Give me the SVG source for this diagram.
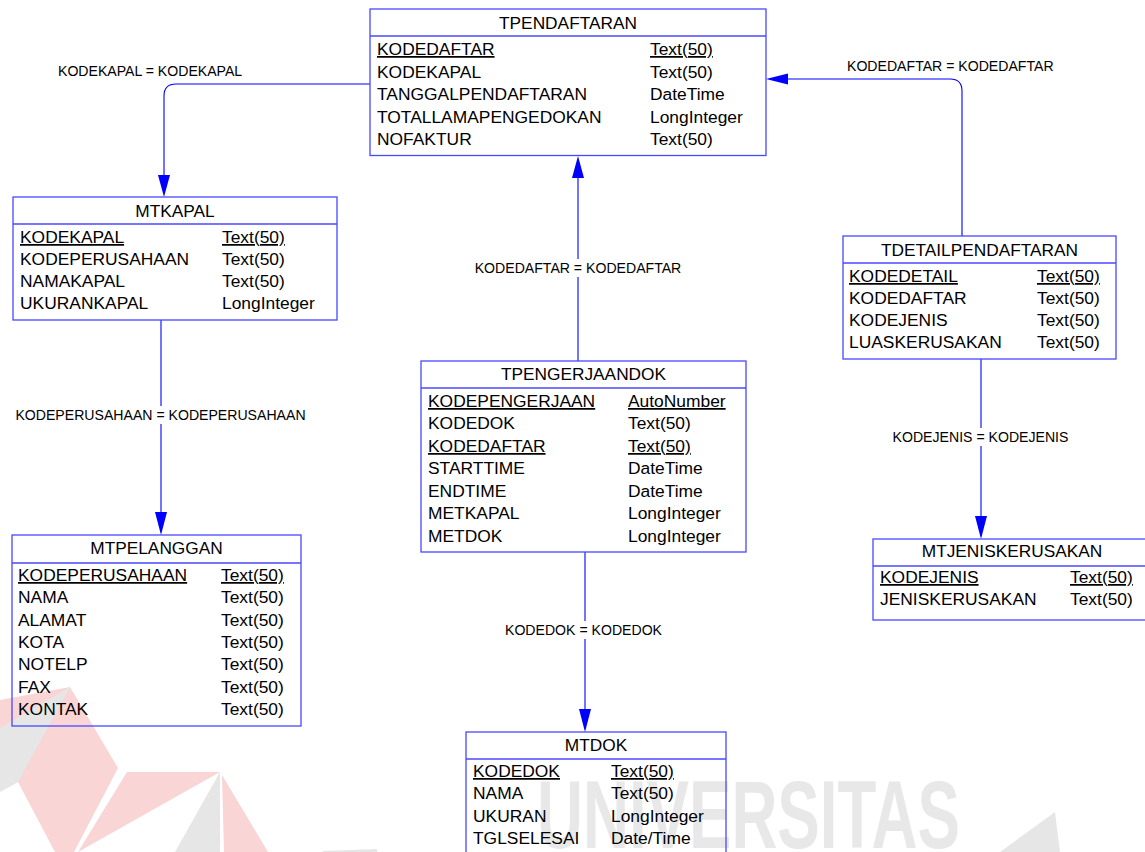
<svg xmlns="http://www.w3.org/2000/svg" width="1145" height="852" viewBox="0 0 1145 852">
<style>
text{font-family:"Liberation Sans",Arial,sans-serif;fill:#000}
.t{font-size:17.3px;text-anchor:middle}
.r{font-size:17.4px}
.u{text-decoration:underline}
.lbl{font-size:14.1px}
.lc{font-size:14.1px;text-anchor:middle}
.box{fill:none;stroke:#4848ff;stroke-width:1.3}
.ln{fill:none;stroke:#0000ff;stroke-width:1.1}
.ah{fill:#0000ff;stroke:none}
.bg{fill:#fff}
.wr{fill:#f9d5d5}
.wg{fill:#e6e6e6}
</style>
<rect width="1145" height="852" fill="#fff"/>
<g id="watermark">
<polygon class="wr" points="0,700 70,687 118,768 74,852 0,852"/>
<polygon class="wg" points="0,728 70,687 18,782 0,792"/>
<polygon class="bg" points="0,792 18,782 55,852 0,852"/>
<polygon class="wr" points="127,772 220,772 78,852"/>
<polygon class="wr" points="222,775 268,852 224,852"/>
<polygon class="wg" points="220,772 220,852 175,852"/>
<polygon class="wg" points="323,851 377,849 377,852 323,852"/>
<polygon class="wg" points="1055,812 1060,852 1000,852"/>
<text x="537" y="848" font-size="96" font-weight="bold" textLength="423" lengthAdjust="spacingAndGlyphs" style="fill:#e8e8e8">UNIVERSITAS</text>
</g>
<g id="connectors">
<path class="ln" d="M370,84 H176 Q164,84 164,96 V180"/>
<polygon class="ah" points="164,197 158,175 170,175"/>
<text class="lbl" x="58" y="76">KODEKAPAL = KODEKAPAL</text>
<path class="ln" d="M962,236 V91 Q962,79 950,79 H785"/>
<polygon class="ah" points="766,79 788,73.5 788,84.5"/>
<text class="lbl" x="847" y="71">KODEDAFTAR = KODEDAFTAR</text>
<path class="ln" d="M578,361 V175"/>
<polygon class="ah" points="578,156 572,178 584,178"/>
<rect class="bg" x="474" y="259" width="208" height="18"/>
<text class="lc" x="578" y="273">KODEDAFTAR = KODEDAFTAR</text>
<path class="ln" d="M161,320 V515"/>
<polygon class="ah" points="161,535 155,512 167,512"/>
<rect class="bg" x="16" y="406" width="290" height="18"/>
<text class="lc" x="160.5" y="420">KODEPERUSAHAAN = KODEPERUSAHAAN</text>
<path class="ln" d="M981,359 V520"/>
<polygon class="ah" points="981,539 975,516 987,516"/>
<rect class="bg" x="892" y="428" width="178" height="18"/>
<text class="lc" x="980.5" y="442">KODEJENIS = KODEJENIS</text>
<path class="ln" d="M585,552 V712"/>
<polygon class="ah" points="585,732 579,709 591,709"/>
<rect class="bg" x="504" y="621" width="160" height="18"/>
<text class="lc" x="583.5" y="635">KODEDOK = KODEDOK</text>
</g>
<g id="TPENDAFTARAN">
<rect class="box" x="370" y="9" width="396" height="146.5"/>
<line class="box" x1="370" y1="36" x2="766" y2="36"/>
<text class="t" x="568" y="29">TPENDAFTARAN</text>
<text class="r u" x="377" y="55">KODEDAFTAR</text><text class="r u" x="650" y="55">Text(50)</text>
<text class="r" x="377" y="77.6">KODEKAPAL</text><text class="r" x="650" y="77.6">Text(50)</text>
<text class="r" x="377" y="100.2">TANGGALPENDAFTARAN</text><text class="r" x="650" y="100.2">DateTime</text>
<text class="r" x="377" y="122.8">TOTALLAMAPENGEDOKAN</text><text class="r" x="650" y="122.8">LongInteger</text>
<text class="r" x="377" y="145.4">NOFAKTUR</text><text class="r" x="650" y="145.4">Text(50)</text>
</g>
<g id="MTKAPAL">
<rect class="box" x="13" y="197" width="324" height="123"/>
<line class="box" x1="13" y1="224" x2="337" y2="224"/>
<text class="t" x="175" y="217">MTKAPAL</text>
<text class="r u" x="20" y="243">KODEKAPAL</text><text class="r u" x="222" y="243">Text(50)</text>
<text class="r" x="20" y="265">KODEPERUSAHAAN</text><text class="r" x="222" y="265">Text(50)</text>
<text class="r" x="20" y="287">NAMAKAPAL</text><text class="r" x="222" y="287">Text(50)</text>
<text class="r" x="20" y="309">UKURANKAPAL</text><text class="r" x="222" y="309">LongInteger</text>
</g>
<g id="MTPELANGGAN">
<rect class="box" x="12" y="535" width="289" height="191"/>
<line class="box" x1="12" y1="563" x2="301" y2="563"/>
<text class="t" x="156.5" y="554">MTPELANGGAN</text>
<text class="r u" x="18" y="581">KODEPERUSAHAAN</text><text class="r u" x="221" y="581">Text(50)</text>
<text class="r" x="18" y="603">NAMA</text><text class="r" x="221" y="603">Text(50)</text>
<text class="r" x="18" y="626">ALAMAT</text><text class="r" x="221" y="626">Text(50)</text>
<text class="r" x="18" y="648">KOTA</text><text class="r" x="221" y="648">Text(50)</text>
<text class="r" x="18" y="670">NOTELP</text><text class="r" x="221" y="670">Text(50)</text>
<text class="r" x="18" y="693">FAX</text><text class="r" x="221" y="693">Text(50)</text>
<text class="r" x="18" y="715">KONTAK</text><text class="r" x="221" y="715">Text(50)</text>
</g>
<g id="TPENGERJAANDOK">
<rect class="box" x="421" y="361" width="325" height="191"/>
<line class="box" x1="421" y1="388" x2="746" y2="388"/>
<text class="t" x="583.5" y="380">TPENGERJAANDOK</text>
<text class="r u" x="428" y="407">KODEPENGERJAAN</text><text class="r u" x="628" y="407">AutoNumber</text>
<text class="r" x="428" y="429">KODEDOK</text><text class="r" x="628" y="429">Text(50)</text>
<text class="r u" x="428" y="452">KODEDAFTAR</text><text class="r u" x="628" y="452">Text(50)</text>
<text class="r" x="428" y="474">STARTTIME</text><text class="r" x="628" y="474">DateTime</text>
<text class="r" x="428" y="497">ENDTIME</text><text class="r" x="628" y="497">DateTime</text>
<text class="r" x="428" y="519">METKAPAL</text><text class="r" x="628" y="519">LongInteger</text>
<text class="r" x="428" y="542">METDOK</text><text class="r" x="628" y="542">LongInteger</text>
</g>
<g id="TDETAILPENDAFTARAN">
<rect class="box" x="843" y="236" width="273" height="123"/>
<line class="box" x1="843" y1="263" x2="1116" y2="263"/>
<text class="t" x="979.5" y="256">TDETAILPENDAFTARAN</text>
<text class="r u" x="849" y="282">KODEDETAIL</text><text class="r u" x="1037" y="282">Text(50)</text>
<text class="r" x="849" y="304">KODEDAFTAR</text><text class="r" x="1037" y="304">Text(50)</text>
<text class="r" x="849" y="326">KODEJENIS</text><text class="r" x="1037" y="326">Text(50)</text>
<text class="r" x="849" y="348">LUASKERUSAKAN</text><text class="r" x="1037" y="348">Text(50)</text>
</g>
<g id="MTJENISKERUSAKAN">
<rect class="box" x="873" y="539" width="278" height="81"/>
<line class="box" x1="873" y1="566" x2="1151" y2="566"/>
<text class="t" x="1012" y="557">MTJENISKERUSAKAN</text>
<text class="r u" x="880" y="583">KODEJENIS</text><text class="r u" x="1070" y="583">Text(50)</text>
<text class="r" x="880" y="605">JENISKERUSAKAN</text><text class="r" x="1070" y="605">Text(50)</text>
</g>
<g id="MTDOK">
<rect class="box" x="466" y="732" width="260" height="130"/>
<line class="box" x1="466" y1="759" x2="726" y2="759"/>
<text class="t" x="596" y="751">MTDOK</text>
<text class="r u" x="473" y="777">KODEDOK</text><text class="r u" x="611" y="777">Text(50)</text>
<text class="r" x="473" y="799">NAMA</text><text class="r" x="611" y="799">Text(50)</text>
<text class="r" x="473" y="822">UKURAN</text><text class="r" x="611" y="822">LongInteger</text>
<text class="r" x="473" y="844">TGLSELESAI</text><text class="r" x="611" y="844">Date/Time</text>
</g>
</svg>
